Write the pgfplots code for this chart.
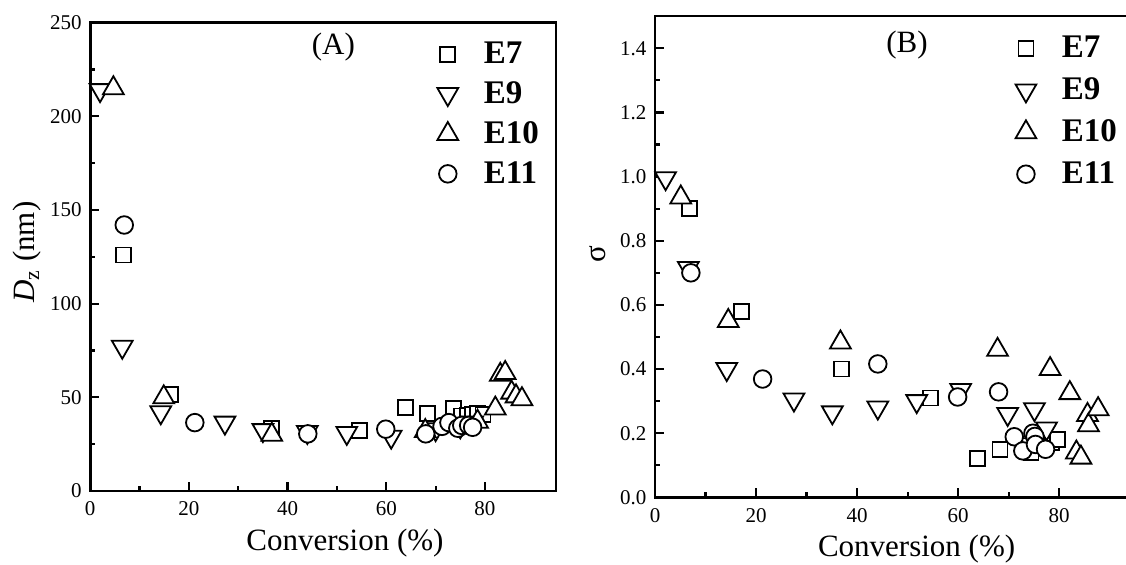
\documentclass[border=0pt]{standalone}
\usepackage{fontspec}
\setmainfont{Liberation Serif}
\usepackage{pgfplots}
\pgfplotsset{compat=1.18}
\pgfplotsset{
 common/.style={
  scale only axis,
  axis line style={line width=1.3pt},
  tick align=inside,
  xtick pos=bottom, ytick pos=left,
  major tick length=4.6pt, minor tick length=2.6pt,
  tick style={line width=1.1pt, black},
  minor x tick num=1, minor y tick num=1,
  every tick label/.append style={font=\fontsize{10.5}{12.5}\selectfont},
  xticklabel style={yshift=-1.8pt},
  yticklabel style={xshift=-0.8pt},
  /pgf/number format/assume math mode=true,
  label style={font=\fontsize{15.5}{18}\selectfont},
  legend style={draw=none, fill=none, font=\fontsize{16.5}{19}\selectfont\bfseries, row sep=3.5pt},
  legend cell align=left,
  legend image code/.code={\draw[##1] plot coordinates {(0pt,0pt)}; \path[draw=none] (16pt,0pt);},
 },
 base/.style={black, draw=black, only marks, line width=0.9pt},
 E7/.style={base, mark=square*, mark size=3.75pt, mark options={fill=white, draw=black}},
 E9/.style={base, mark=triangle*, mark size=6pt, mark options={rotate=180, fill=white, draw=black}},
 E10/.style={base, mark=triangle*, mark size=6pt, mark options={fill=white, draw=black}},
 E11/.style={base, mark=*, mark size=4.4pt, mark options={fill=white, draw=black}},
}
\begin{document}
\begin{tikzpicture}
\useasboundingbox (0,0) rectangle (563pt,282.5pt);
\clip (0,0) rectangle (563pt,282.5pt);
% ---------------- (A)
\begin{axis}[common,
  at={(45.1pt,37pt)}, anchor=south west,
  width=232.9pt, height=234.15pt,
  xmin=0, xmax=94.4, ymin=0, ymax=250,
  xtick={0,20,40,60,80}, ytick={0,50,100,150,200,250},
  xlabel={Conversion (\%)},
  ylabel={\textit{D}\textsubscript{z} (nm)},
  xlabel style={at={(axis description cs:0.547,0)}, anchor=north, yshift=-15.3pt},
  ylabel style={at={(axis description cs:-0.135,0.51)}, anchor=center},
  legend style={at={(rel axis cs:0.766,0.936)}, anchor=north west, xshift=-8pt, yshift=9.5pt},
]
\addplot[E7] coordinates {(6.7,126) (16.3,51.5) (36.8,33.5) (54.6,32.5) (63.9,44.5) (68.4,41.5) (73.7,44) (75.3,40) (76.4,40.5) (77.5,41) (78.5,41.5) (79.6,41)};
\addlegendentry{E7}
\addplot[E9] coordinates {(2,214) (6.5,77) (14.3,42) (27.3,36.5) (35,32.5) (44,31.5) (52,31) (61,29) (70,33) (75,34.5) (77.5,36.5)};
\addlegendentry{E9}
\addplot[E10] coordinates {(4.7,215) (14.9,50) (36.8,30) (67.9,32) (78.5,37) (82.1,44) (83.1,62) (84.1,63) (85.4,52.5) (86.3,50.5) (87.5,49)};
\addlegendentry{E10}
\addplot[E11] coordinates {(6.9,142) (21.2,36.5) (44.1,30.5) (59.9,33) (68,30.5) (71.3,34.5) (72.7,36.5) (74.5,33.5) (75.3,35) (76.7,35) (77.5,34)};
\addlegendentry{E11}
\node[font=\fontsize{15.5}{18}\selectfont] at (rel axis cs:0.522,0.948) {(A)};
\end{axis}
% ---------------- (B)
\begin{axis}[common,
  at={(327.5pt,33.8pt)}, anchor=south west,
  width=240pt, height=240.6pt,
  xmin=0, xmax=95, ymin=0, ymax=1.5,
  xtick={0,20,40,60,80}, ytick={0,0.2,0.4,0.6,0.8,1.0,1.2,1.4},
  yticklabel style={/pgf/number format/.cd, fixed, fixed zerofill, precision=1, assume math mode=true},
  xlabel={Conversion (\%)},
  ylabel={σ},
  xlabel style={at={(axis description cs:0.545,0)}, anchor=north, yshift=-15.5pt},
  ylabel style={at={(axis description cs:-0.119,0.506)}, anchor=center},
  legend style={at={(rel axis cs:0.767,0.936)}, anchor=north west, xshift=-7pt, yshift=9.5pt, row sep=4.5pt},
]
\addplot[E7] coordinates {(6.8,0.90) (17.1,0.58) (36.9,0.40) (54.5,0.31) (63.9,0.12) (68.3,0.15) (73.7,0.16) (74.4,0.14) (75.3,0.17) (76.4,0.18) (78.5,0.17) (79.7,0.18)};
\addlegendentry{E7}
\addplot[E9] coordinates {(2.1,0.995) (6.6,0.715) (14.2,0.40) (27.5,0.305) (35.1,0.265) (44.1,0.28) (51.8,0.30) (60.5,0.335) (69.8,0.26) (75.1,0.275) (77.5,0.215)};
\addlegendentry{E9}
\addplot[E10] coordinates {(5.1,0.935) (14.5,0.55) (36.7,0.483) (67.8,0.46) (78.2,0.40) (82.1,0.325) (83.4,0.14) (84.3,0.124) (85.6,0.257) (85.8,0.225) (87.7,0.275)};
\addlegendentry{E10}
\addplot[E11] coordinates {(7.1,0.70) (21.3,0.369) (44.1,0.416) (59.9,0.313) (68.0,0.329) (71.1,0.189) (72.8,0.145) (74.8,0.20) (75.2,0.19) (75.3,0.165) (77.3,0.15)};
\addlegendentry{E11}
\node[font=\fontsize{15.5}{18}\selectfont] at (rel axis cs:0.525,0.94) {(B)};
\end{axis}
\end{tikzpicture}
\end{document}
